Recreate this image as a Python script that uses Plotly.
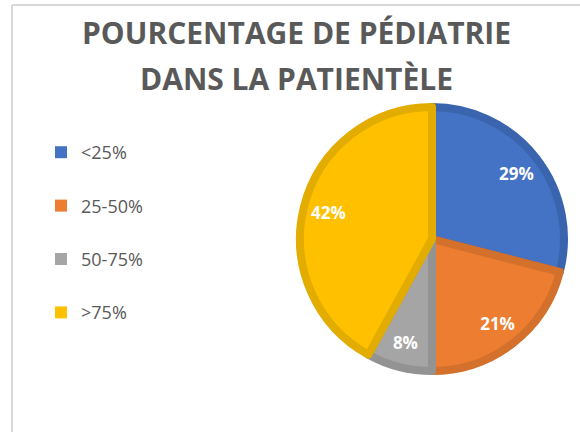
import plotly.graph_objects as go

categories = ["<25%", "25-50%", "50-75%", ">75%"]
values = [29, 21, 8, 42]
fill_colors = ["#4472C4", "#ED7D31", "#A5A5A5", "#FFC000"]
edge_colors = ["#3A64AE", "#D3702B", "#939393", "#E3AC00"]
title_lines = ["POURCENTAGE DE PÉDIATRIE", "DANS LA PATIENTÈLE"]

W, H = 580, 432
cx, cy, R = 432, 239, 132
dom_x = [(cx - R) / W, (cx + R) / W]
dom_y = [(H - cy - R) / H, (H - cy + R) / H]

fig = go.Figure()

# main pie
fig.add_trace(go.Pie(
    labels=categories, values=values, sort=False, direction="clockwise", rotation=0,
    marker=dict(colors=fill_colors, line=dict(color=edge_colors, width=8)),
    textinfo="none", hoverinfo="label+percent", showlegend=False,
    domain=dict(x=dom_x, y=dom_y),
))

# label ring (transparent) to place percentage text near the rim
fig.add_trace(go.Pie(
    labels=categories, values=values, sort=False, direction="clockwise", rotation=0,
    hole=0.62,
    marker=dict(colors=["rgba(0,0,0,0)"] * 4, line=dict(width=0)),
    texttemplate="%{percent:.0%}", textposition="inside", insidetextorientation="horizontal",
    insidetextfont=dict(color="white", size=17, family="Open Sans", weight="bold"),
    hoverinfo="skip", showlegend=False,
    domain=dict(x=dom_x, y=dom_y),
))

# legend entries
for i, (cat, col) in enumerate(zip(categories, fill_colors)):
    fig.add_trace(go.Scatter(
        x=[None], y=[None], mode="markers", name=cat, legendgroup=f"g{i}",
        marker=dict(symbol="square", size=11, color=col),
    ))

fig.update_layout(
    width=W, height=H,
    margin=dict(l=0, r=0, t=0, b=0),
    paper_bgcolor="white", plot_bgcolor="white",
    xaxis=dict(visible=False), yaxis=dict(visible=False),
    showlegend=True,
    legend=dict(
        x=41 / W, y=1 - 134 / H, xanchor="left", yanchor="top",
        font=dict(family="Open Sans", size=18, color="#595959"),
        tracegroupgap=27, itemsizing="constant", bgcolor="rgba(0,0,0,0)",
    ),
    annotations=[
        dict(text=title_lines[0], x=296 / W, y=1 - 33 / H, xref="paper", yref="paper",
             showarrow=False, xanchor="center", yanchor="middle",
             font=dict(family="Open Sans", size=30, color="#595959", weight="bold")),
        dict(text=title_lines[1], x=296 / W, y=1 - 78 / H, xref="paper", yref="paper",
             showarrow=False, xanchor="center", yanchor="middle",
             font=dict(family="Open Sans", size=30, color="#595959", weight="bold")),
    ],
    shapes=[
        dict(type="line", xref="paper", yref="paper", x0=12 / W, x1=12 / W, y0=0, y1=1 - 5 / H,
             line=dict(color="#D9D9D9", width=2)),
        dict(type="line", xref="paper", yref="paper", x0=12 / W, x1=1, y0=1 - 5 / H, y1=1 - 5 / H,
             line=dict(color="#D9D9D9", width=2)),
    ],
)

fig.write_html("out.html", config={"displayModeBar": False},
               post_script="document.body.style.margin='0';")
